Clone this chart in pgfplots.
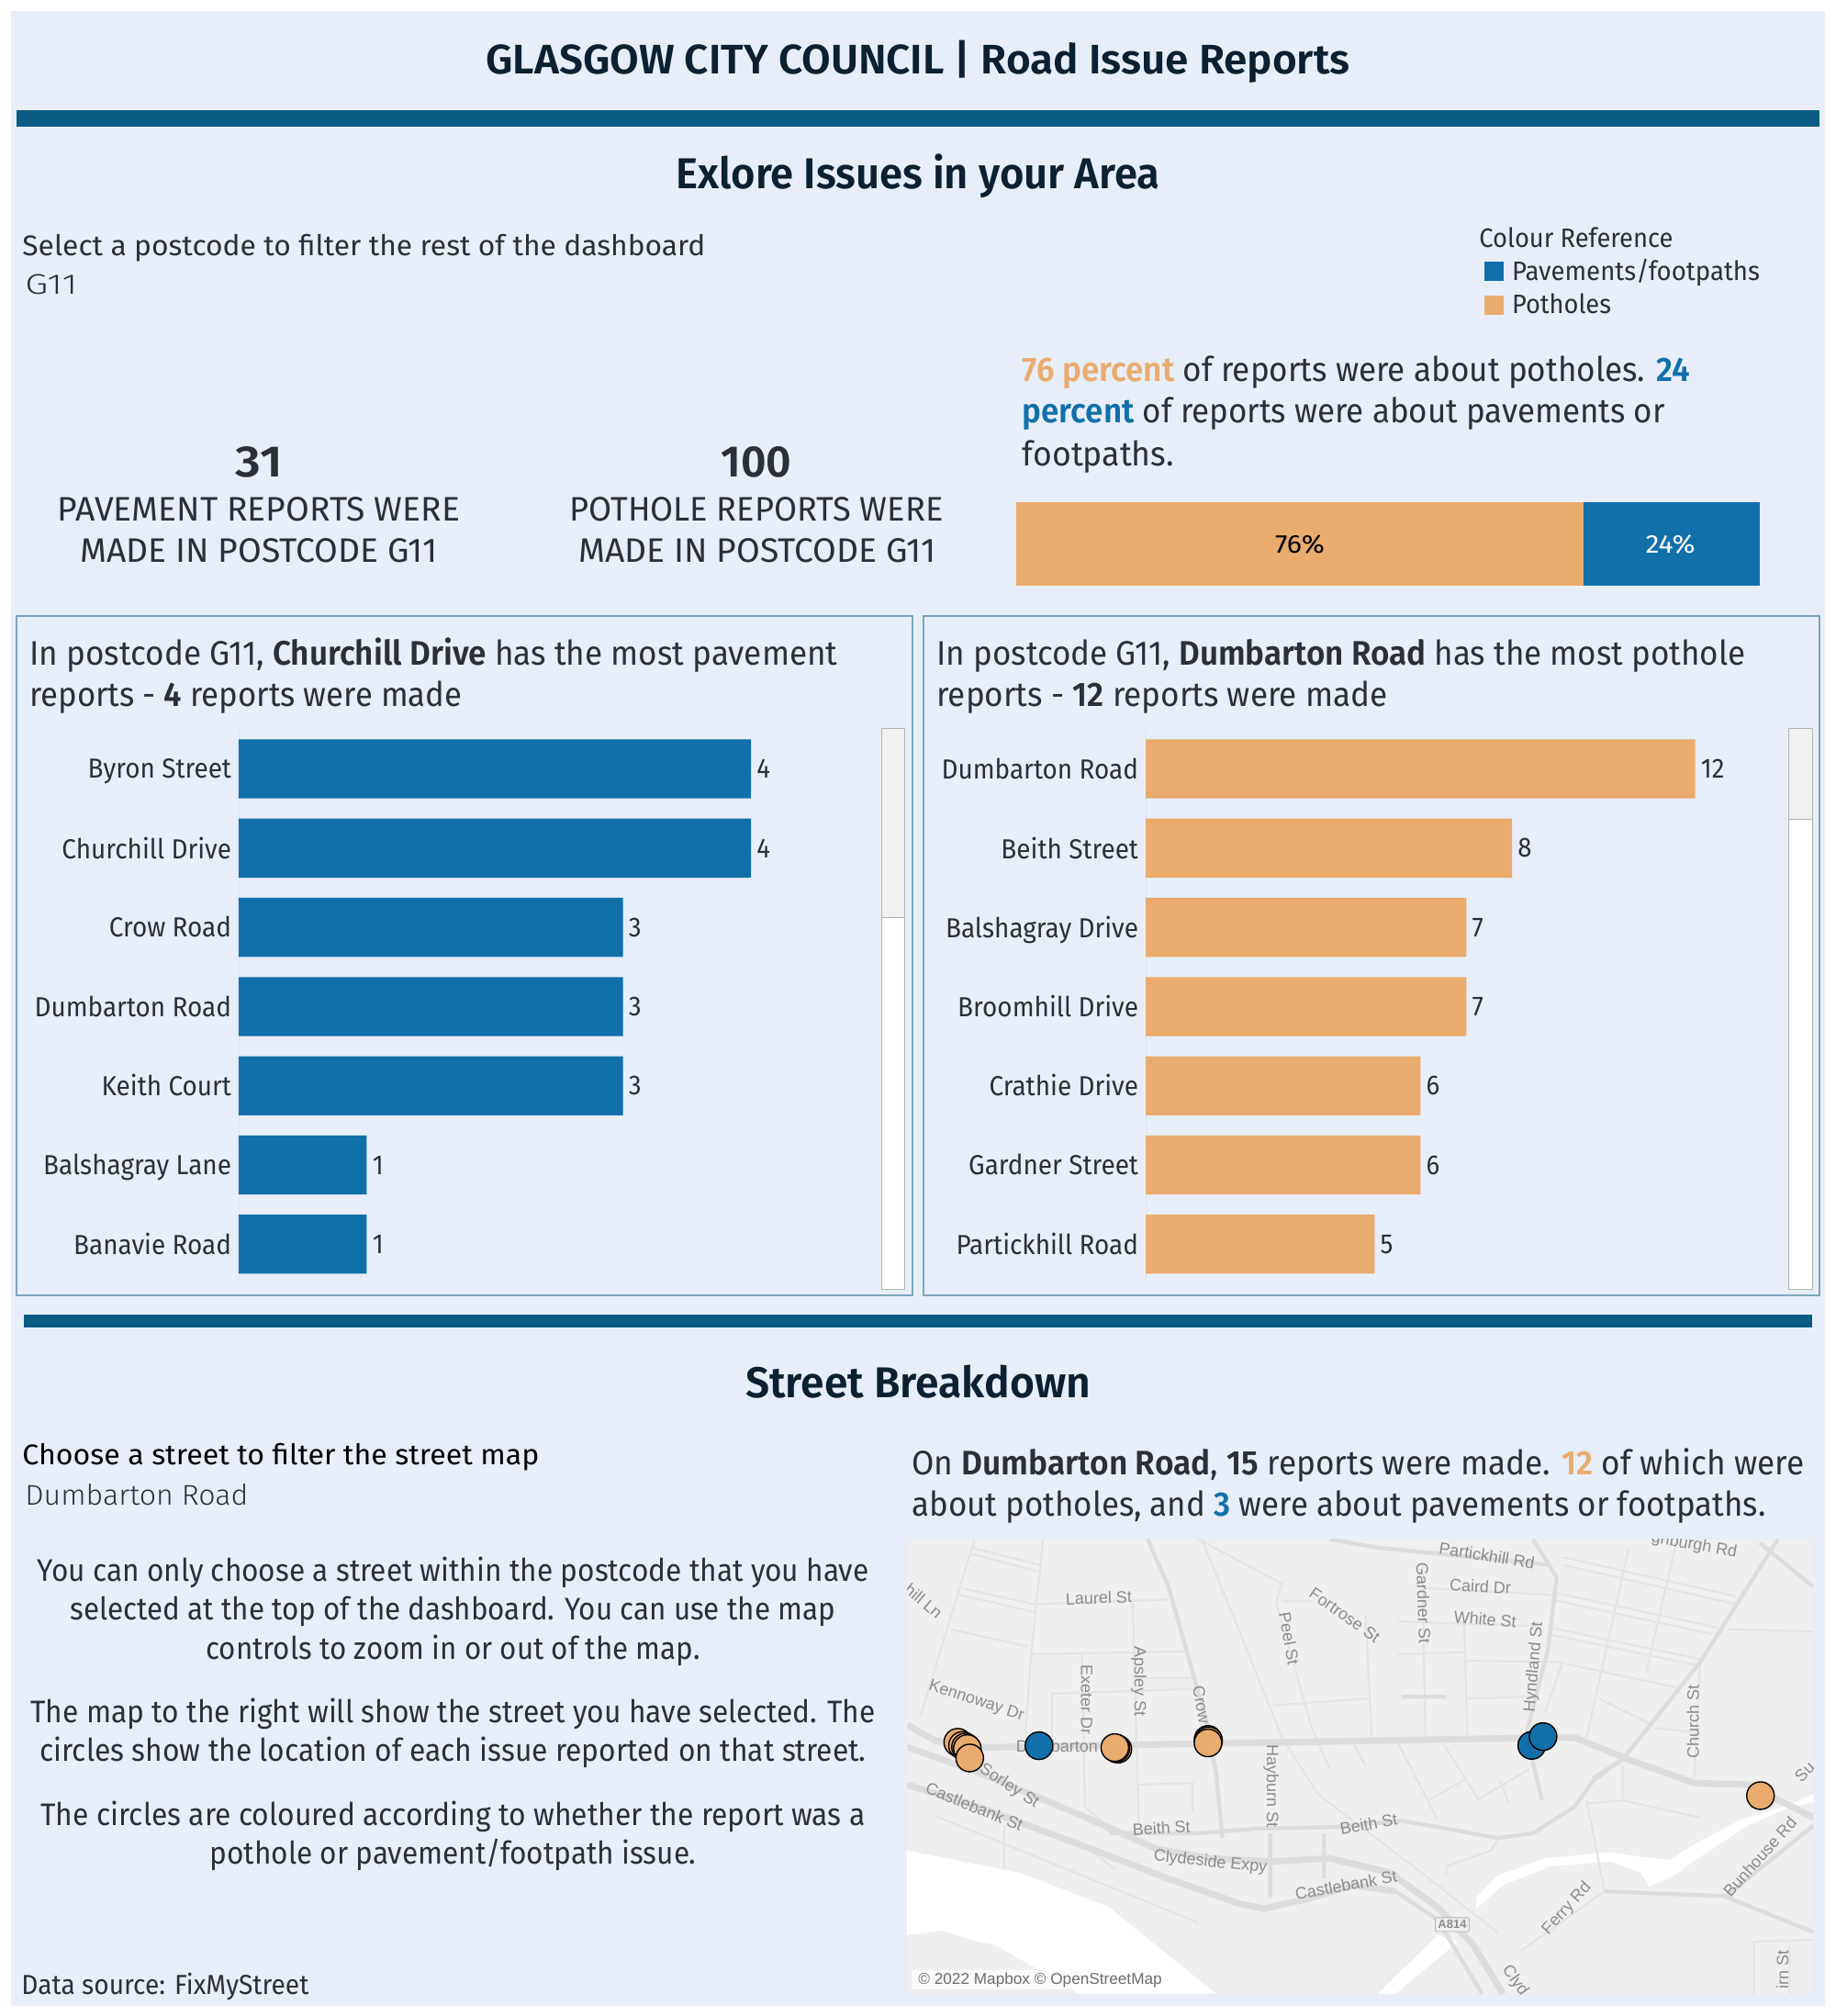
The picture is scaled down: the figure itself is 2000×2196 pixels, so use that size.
\documentclass[border=0pt]{standalone}
\usepackage{graphicx}
\usepackage{fontspec}
\setmainfont{Fira Sans}[BoldFont={Fira Sans SemiBold}]
\newfontfamily\lightfont{Fira Sans Light}
\newfontfamily\mapfont{Liberation Sans}
\usepackage{pgfplots}
\pgfplotsset{compat=1.18}

\definecolor{pagebg}{HTML}{E7EEF9}
\definecolor{rule}{HTML}{0B5C84}
\definecolor{head}{HTML}{0C2033}
\definecolor{ink}{HTML}{2B2F36}
\definecolor{pave}{HTML}{1170AA}
\definecolor{hole}{HTML}{E9AB6E}
\definecolor{panel}{HTML}{7CA5BF}
\definecolor{land}{HTML}{EFEFEF}
\definecolor{roadmain}{HTML}{DCDCDC}
\definecolor{roadthin}{HTML}{E3E3E3}
\definecolor{maptext}{HTML}{8C8C8C}

% size in pt, width in reference pixels, text
\newcommand\fit[3]{{\fontsize{#1}{#1}\selectfont\resizebox{\dimexpr #2pt/2\relax}{\height}{#3}}}

\tikzset{
  mapname/.style={text=maptext, inner sep=0pt, font=\mapfont\fontsize{9}{9}\selectfont},
  roadbig/.style={draw=roadmain, line width=3.6pt, line join=round},
  roadmid/.style={draw=roadmain, line width=2.2pt, line join=round},
  roadlow/.style={draw=roadthin, line width=1.1pt, line join=round},
}

\pgfplotsset{
  streetbars/.style={
    xbar, scale only axis, y dir=reverse,
    width=348.75pt, height=302pt,
    xmin=0, ymin=-0.5, ymax=6.5,
    bar width=32.15pt,
    axis x line=none, axis y line*=left,
    y axis line style={draw=roadthin,-},
    ytick=data, major tick length=0pt,
    typeset ticklabels with strut,
    yticklabel style={font=\fontsize{15}{15}\selectfont, text=ink, inner sep=0pt, xshift=-3.8pt, yshift=-2pt, xscale=0.93},
    nodes near coords,
    /pgf/number format/assume math mode=true,
    nodes near coords style={font=\fontsize{15}{15}\selectfont, text=ink, inner sep=3.2pt, xscale=0.92},
  },
}

\begin{document}
\begin{tikzpicture}
\begin{scope}[x=0.5pt,y=-0.5pt]
  \path[use as bounding box, fill=white] (0,0) rectangle (2000,2196);
  \fill[pagebg] (12,12) rectangle (1988,2185);
  \fill[rule] (18,120) rectangle (1982,138);
  \fill[rule] (26,1432) rectangle (1974,1446);

  \node[anchor=base,text=head,inner sep=0] at (1000,80) {\fit{22.5}{941}{\bfseries GLASGOW CITY COUNCIL | Road Issue Reports}};
  \node[anchor=base,text=head,inner sep=0] at (1000,205.5) {\fit{23.5}{527}{\bfseries Exlore Issues in your Area}};
  \node[anchor=base west,text=ink,inner sep=0] at (24,278) {\fit{15.5}{744}{Select a postcode to filter the rest of the dashboard}};
  \node[anchor=base west,text=ink,inner sep=0] at (27,320.7) {\fit{15.5}{57}{\lightfont G11}};

  \node[anchor=base,text=ink,inner sep=0] at (282,519) {\fit{24}{51}{\bfseries 31}};
  \node[anchor=base,text=ink,inner sep=0] at (282,567.5) {\fit{18.5}{438}{PAVEMENT REPORTS WERE}};
  \node[anchor=base,text=ink,inner sep=0] at (282,612.5) {\fit{18.5}{389}{MADE IN POSTCODE G11}};
  \node[anchor=base,text=ink,inner sep=0] at (824,519) {\fit{24}{77}{\bfseries 100}};
  \node[anchor=base,text=ink,inner sep=0] at (824,567.5) {\fit{18.5}{407}{POTHOLE REPORTS WERE}};
  \node[anchor=base,text=ink,inner sep=0] at (825,612.5) {\fit{18.5}{389}{MADE IN POSTCODE G11}};

  \node[anchor=base west,text=ink,inner sep=0] at (1611,269.5) {\fit{14.5}{211}{Colour Reference}};

  \node[anchor=base west,text=ink,inner sep=0] at (1113.5,415) {\fit{18.5}{727}{\textcolor{hole}{\bfseries 76 percent} of reports were about potholes. \textcolor{pave}{\bfseries 24}}};
  \node[anchor=base west,text=ink,inner sep=0] at (1113.5,460.5) {\fit{18.5}{700}{\textcolor{pave}{\bfseries percent} of reports were about pavements or}};
  \node[anchor=base west,text=ink,inner sep=0] at (1113.5,507) {\fit{18.5}{165}{footpaths.}};

  % the two panels and their scroll bars
  \draw[panel,line width=1pt] (18,671) rectangle (993.5,1410.5);
  \draw[panel,line width=1pt] (1006,671) rectangle (1982,1410.5);
  \node[anchor=base west,text=ink,inner sep=0] at (32,724) {\fit{18.5}{880}{In postcode G11, \textbf{Churchill Drive} has the most pavement}};
  \node[anchor=base west,text=ink,inner sep=0] at (32,769.5) {\fit{18.5}{471}{reports - \textbf{4} reports were made}};
  \node[anchor=base west,text=ink,inner sep=0] at (1020,724) {\fit{18.5}{881}{In postcode G11, \textbf{Dumbarton Road} has the most pothole}};
  \node[anchor=base west,text=ink,inner sep=0] at (1020,769.5) {\fit{18.5}{491}{reports - \textbf{12} reports were made}};
  \draw[fill=white,draw=gray!60] (960.5,793.7) rectangle (985,1404);
  \draw[fill=gray!12,draw=gray!60] (960.5,793.7) rectangle (985,999);
  \draw[fill=white,draw=gray!60] (1948,793.7) rectangle (1974,1404);
  \draw[fill=gray!12,draw=gray!60] (1948,793.7) rectangle (1974,892);

  \node[anchor=base,text=head,inner sep=0] at (1000,1522.5) {\fit{23.5}{376}{\bfseries Street Breakdown}};
  \node[anchor=base west,text=black,inner sep=0] at (24,1595.7) {\fit{15.5}{563}{Choose a street to filter the street map}};
  \node[anchor=base west,text=ink,inner sep=0] at (27,1639) {\fit{15.5}{243}{\lightfont Dumbarton Road}};

  \node[anchor=base,text=ink,inner sep=0] at (493.5,1722) {\fit{17}{906}{You can only choose a street within the postcode that you have}};
  \node[anchor=base,text=ink,inner sep=0] at (493.5,1764.5) {\fit{17}{833}{selected at the top of the dashboard. You can use the map}};
  \node[anchor=base,text=ink,inner sep=0] at (493.5,1807) {\fit{17}{538}{controls to zoom in or out of the map.}};
  \node[anchor=base,text=ink,inner sep=0] at (493.5,1876.4) {\fit{17}{920}{The map to the right will show the street you have selected. The}};
  \node[anchor=base,text=ink,inner sep=0] at (493.5,1918.5) {\fit{17}{900}{circles show the location of each issue reported on that street.}};
  \node[anchor=base,text=ink,inner sep=0] at (493.5,1988.5) {\fit{17}{898}{The circles are coloured according to whether the report was a}};
  \node[anchor=base,text=ink,inner sep=0] at (493.5,2030.5) {\fit{17}{530}{pothole or pavement/footpath issue.}};
  \node[anchor=base west,text=ink,inner sep=0] at (23,2172.5) {\fit{15}{313}{Data source: FixMyStreet}};

  \node[anchor=base west,text=ink,inner sep=0] at (993,1606) {\fit{18.5}{972}{On \textbf{Dumbarton Road}, \textbf{15} reports were made. \textcolor{hole}{\bfseries 12} of which were}};
  \node[anchor=base west,text=ink,inner sep=0] at (993,1651) {\fit{18.5}{930}{about potholes, and \textcolor{pave}{\bfseries 3} were about pavements or footpaths.}};

  \coordinate (shareSW) at (1107,638);
  \coordinate (paveSW) at (260,1398.4);
  \coordinate (holeSW) at (1248,1398.4);
  \coordinate (mapSW) at (988,2172);
\end{scope}

% share of reports
\begin{axis}[
  at={(shareSW)}, anchor=south west, scale only axis,
  width=404.75pt, height=45.5pt,
  xbar stacked, bar width=45.5pt,
  xmin=0, xmax=131, ymin=-0.5, ymax=0.5,
  hide axis, clip=false,
  reverse legend,
  legend cell align=left,
  legend image code/.code={\fill[#1] (0pt,-5.2pt) rectangle (10.5pt,5.2pt);},
  legend style={draw=none, fill=none, inner sep=0pt, at={(0.63,3.96)}, anchor=north west,
    row sep=1.8pt, font=\fontsize{14.5}{14.5}\selectfont, text=ink},
]
\addplot[fill=hole,draw=none] coordinates {(100,0)};
\addplot[fill=pave,draw=none] coordinates {(31,0)};
\addlegendentry{\hspace{2.3pt}\fit{14.5}{108}{Potholes}}
\addlegendentry{\hspace{2.3pt}\fit{14.5}{270}{Pavements/footpaths}}
\end{axis}
\begin{scope}[x=0.5pt,y=-0.5pt]
  \node[anchor=base,text=black,inner sep=0] at (1416,602) {\fit{14}{54}{76\%}};
  \node[anchor=base,text=white,inner sep=0] at (1819.5,602) {\fit{14}{54}{24\%}};
\end{scope}

% pavement reports by street
\begin{axis}[
  streetbars, at={(paveSW)}, anchor=south west,
  xmax=5,
  yticklabels={Byron Street,Churchill Drive,Crow Road,Dumbarton Road,Keith Court,Balshagray Lane,Banavie Road},
]
\addplot[fill=pave,draw=none] coordinates {(4,0) (4,1) (3,2) (3,3) (3,4) (1,5) (1,6)};
\end{axis}

% pothole reports by street
\begin{axis}[
  streetbars, at={(holeSW)}, anchor=south west,
  xmax=13.98,
  yticklabels={Dumbarton Road,Beith Street,Balshagray Drive,Broomhill Drive,Crathie Drive,Gardner Street,Partickhill Road},
]
\addplot[fill=hole,draw=none] coordinates {(12,0) (8,1) (7,2) (7,3) (6,4) (6,5) (5,6)};
\end{axis}

% street map, the axis runs in map pixels
\begin{axis}[
  at={(mapSW)}, anchor=south west, scale only axis,
  width=493.8pt, height=247.7pt,
  xmin=12, xmax=1530, ymin=48, ymax=1497, y dir=reverse,
  hide axis, clip=false,
]
\begin{scope}
\clip (12,48) rectangle (1530,1497);
\fill[land] (12,48) rectangle (1530,1497);
% water
\fill[white] (12,1040) -- (200,1110) -- (350,1220) -- (530,1497) -- (300,1497) -- (160,1340) -- (130,1330) -- (70,1295) -- (12,1310) -- cycle;
\fill[white] (800,1497) -- (900,1310) -- (935,1330) -- (830,1497) -- cycle;
\fill[white] (965,1190) -- (1000,1120) -- (1080,1065) -- (1190,1045) -- (1240,1060) -- (1290,1070) -- (1330,1020) -- (1410,940) -- (1480,900) -- (1530,860) -- (1530,885) -- (1480,910) -- (1420,960) -- (1340,1060) -- (1300,1115) -- (1255,1155) -- (1240,1110) -- (1190,1075) -- (1090,1090) -- (1010,1150) -- (965,1225) -- cycle;
% minor roads
\draw[roadlow]
  (125,48)--(35,610) (240,48)--(220,410)--(210,680)
  (120,75)--(235,130) (120,95)--(230,150)
  (105,205)--(225,255) (100,225)--(225,280) (85,335)--(215,390)
  (225,255)--(450,240) (220,415)--(480,405)
  (305,415)--(310,900)--(360,985)
  (255,680)--(255,540)--(490,525) (400,490)--(490,490)
  (390,250)--(400,950) (400,830)--(490,825)--(490,920)
  (500,48)--(640,190)--(630,250)--(690,650)--(720,780)
  (640,245)--(690,245) (780,290)--(790,680) (625,578)--(785,555)
  (505,48)--(560,300)--(640,680)--(700,860)--(880,1120)--(1000,1300)
  (875,130)--(880,680) (885,205)--(1090,225) (835,310)--(1070,325)
  (835,415)--(945,408) (945,310)--(950,680) (945,435)--(1110,440)
  (950,555)--(1060,550)
  (1110,105)--(1400,230) (1110,130)--(1400,255)
  (1100,220)--(1370,330) (1090,240)--(1360,350)
  (1090,330)--(1340,430) (1085,350)--(1335,450)
  (1385,335)--(1530,342) (1115,445)--(1300,520)
  (1170,555)--(1260,640) (1265,650)--(1340,665)
  (1220,80)--(1150,680) (1300,60)--(1250,470) (1340,440)--(1330,810)
  (760,700)--(780,770) (835,700)--(900,940) (910,700)--(970,880)
  (965,880)--(1055,780) (885,880)--(945,815) (1005,820)--(1020,890)
  (1150,880)--(1180,1170) (1040,1360)--(1180,1170)
  (1430,1497)--(1430,1330)--(1530,1325) (1490,1330)--(1490,1497)
  (1210,770)--(1210,880)--(1340,935) (1150,890)--(1210,880)
  (60,930)--(500,1270) (175,960)--(175,1100) (320,1040)--(360,1100)
  (1000,1010)--(990,1040)--(915,1090)--(915,1120)
  (1110,440)--(1080,600);
\draw[roadmid]
  (720,48)--(800,75)--(1090,130) (1440,60)--(1530,200)
  (1180,1170)--(1380,1185)--(1530,1300) (1380,1190)--(1530,960)
  (620,985)--(620,1190) (710,985)--(710,1130)
  (840,550)--(915,550)
  (415,48)--(450,200)--(490,470)--(515,640)--(530,800)--(540,1000)
  (1060,48)--(1100,170)--(1085,400)--(1050,660)--(1055,720)--(1075,880)
  (1470,48)--(1340,440)--(1210,750)--(1160,810)
  (350,985)--(500,985)--(600,970)--(730,965)--(840,945)--(930,975)--(1000,1000)--(1060,985)--(1130,900)--(1160,820)--(1200,760)
  (830,1170)--(900,1260)--(975,1497);
% main roads
\draw[roadbig]
  (12,640)--(60,690)--(130,712)--(400,703)--(1000,683)--(1130,680)--(1220,750)--(1330,825)--(1420,830)--(1530,935)
  (12,710)--(130,790)--(300,925)--(430,1035)--(520,1065)--(620,1075)--(720,1065)--(820,1110)--(900,1220)--(960,1340)--(1010,1497)
  (12,830)--(130,900)--(300,1020)--(450,1130)--(570,1210)--(610,1225)--(680,1195)--(760,1150)--(830,1170);
% street names
\node[mapname,rotate=-9] at (983,100) {Partickhill Rd};
\node[mapname,rotate=-88] at (877,252) {Gardner St};
\node[mapname,rotate=-3] at (972,198) {Caird Dr};
\node[mapname,rotate=-5] at (980,303) {White St};
\node[mapname,rotate=85] at (1062,455) {Hyndland St};
\node[mapname,rotate=-10] at (1330,68) {ghburgh Rd};
\node[mapname,rotate=2] at (333,235) {Laurel St};
\node[mapname,rotate=-35] at (745,290) {Fortrose St};
\node[mapname,rotate=-80] at (652,365) {Peel St};
\node[mapname,rotate=-90] at (400,500) {Apsley St};
\node[mapname,rotate=-90] at (313,560) {Exeter Dr};
\node[mapname,rotate=-80] at (505,575) {Crow};
\node[mapname,rotate=-18] at (128,565) {Kennoway Dr};
\node[mapname,rotate=-40] at (40,245) {hill Ln};
\node[mapname] at (263,708) {Dumbarton};
\node[mapname,rotate=-33] at (183,835) {Sorley St};
\node[mapname,rotate=-22] at (125,900) {Castlebank St};
\node[mapname,rotate=-90] at (622,835) {Hayburn St};
\node[mapname,rotate=3] at (438,968) {Beith St};
\node[mapname,rotate=10] at (785,955) {Beith St};
\node[mapname,rotate=-6] at (520,1078) {Clydeside Expy};
\node[mapname,rotate=10] at (747,1150) {Castlebank St};
\node[mapname,rotate=48] at (1117,1225) {Ferry Rd};
\node[mapname,rotate=48] at (1440,1060) {Bunhouse Rd};
\node[mapname,rotate=90] at (1328,630) {Church St};
\node[mapname,rotate=45] at (1515,790) {Su};
\node[mapname,rotate=90] at (1478,1420) {irn St};
\node[mapname,rotate=-55] at (1030,1455) {Clyd};
\node[mapname,draw=gray!60,fill=land,rounded corners=1pt,inner sep=1.5pt,font=\mapfont\bfseries\fontsize{6.5}{6.5}\selectfont] at (925,1276) {A814};
\fill[white,opacity=0.8] (20,1420) rectangle (450,1482);
\node[text=gray!85!black,inner sep=0pt,font=\mapfont\fontsize{8.6}{8.6}\selectfont] at (235,1452) {© 2022 Mapbox © OpenStreetMap};
\end{scope}
% reports on the selected street
\addplot[only marks, mark=*, mark size=7.5pt, mark options={fill=hole, draw=black, line width=0.7pt}]
  coordinates {(97,695) (105,705) (110,710) (113,715) (117,745) (365,717) (362,714) (360,712) (516,686) (517,690) (516,697) (1441,865)};
\addplot[only marks, mark=*, mark size=7.5pt, mark options={fill=pave, draw=black, line width=0.7pt}]
  coordinates {(233,706) (1058,705) (1077,677)};
\end{axis}
\end{tikzpicture}
\end{document}
